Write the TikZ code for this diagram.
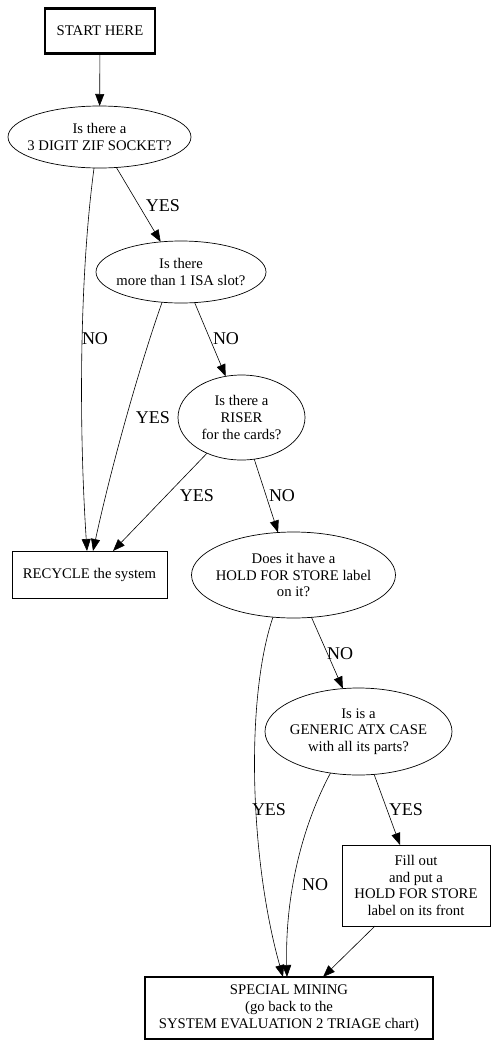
\documentclass[tikz,border=0pt]{standalone}
\usepackage{fontspec}
\setmainfont{Liberation Serif}
\usetikzlibrary{shapes.geometric,arrows.meta}
\begin{document}
\begin{tikzpicture}[x=1pt,y=-1pt,
  every node/.style={inner sep=0pt, outer sep=0pt},
  txt/.style={align=center, font=\fontsize{14.7}{16.8}\selectfont},
  lbl/.style={font=\fontsize{18}{20}\selectfont},
  cond/.style={draw, ellipse, line width=0.7pt},
  boxn/.style={draw, rectangle, line width=0.7pt, txt},
  heavy/.style={draw, rectangle, line width=2.4pt, txt},
  arr/.style={-{Triangle[length=12pt,width=9pt]}, line width=0.6pt}
]
\useasboundingbox (0,0) rectangle (496,1047);

% nodes
\node[heavy, minimum width=110pt, minimum height=45pt] (start) at (100,31) {START HERE};
\node[cond, minimum width=183pt, minimum height=62pt,
  label={[txt]center:{Is there a\\3 DIGIT ZIF SOCKET?}}] (zif) at (99.5,137) {};
\node[cond, minimum width=170pt, minimum height=62pt,
  label={[txt]center:{Is there\\more than 1 ISA slot?}}] (isa) at (181,272) {};
\node[cond, minimum width=127pt, minimum height=85pt,
  label={[txt]center:{Is there a\\RISER\\for the cards?}}] (riser) at (241.5,417.5) {};
\node[boxn, minimum width=155pt, minimum height=47pt] (rec) at (89.5,574.5) {RECYCLE the system};
\node[cond, minimum width=204pt, minimum height=86pt,
  label={[txt]center:{Does it have a\\HOLD FOR STORE label\\on it?}}] (hold) at (293.5,575) {};
\node[cond, minimum width=187pt, minimum height=87pt,
  label={[txt]center:{Is is a\\GENERIC ATX CASE\\with all its parts?}}] (atx) at (358.5,731.5) {};
\node[boxn, minimum width=148pt, minimum height=81pt] (fill) at (416,885.5)
  {Fill out\\and put a\\HOLD FOR STORE\\label on its front};
\node[heavy, minimum width=288pt, minimum height=62pt] (special) at (289,1008)
  {SPECIAL MINING\\(go back to the\\SYSTEM EVALUATION 2 TRIAGE chart)};

% connectors
\draw[arr] (start) -- (zif);
\draw[arr] (zif.299) -- (isa.124);
\draw[arr] (zif.260) .. controls (79,280) and (79,430) .. ([xshift=-2.5pt]rec.north);
\draw[arr] (isa.238.5) .. controls (145,350) and (115,450) .. ([xshift=3.5pt]rec.north);
\draw[arr] (isa.294) -- (riser.111);
\draw[arr] (riser.226) -- ([xshift=23.5pt]rec.north);
\draw[arr] (riser.287.6) -- (hold.110);
\draw[arr] (hold.293) -- (atx.110.8);
\draw[arr] (hold.244.5) .. controls (245,700) and (250,860) .. ([xshift=-6pt]special.north);
\draw[arr] (atx.236.8) .. controls (300,830) and (285,900) .. ([xshift=-2pt]special.north);
\draw[arr] (atx.290.8) -- ([xshift=-16pt]fill.north);
\draw[arr] ([xshift=-41pt]fill.south) -- ([xshift=34pt]special.north);

% edge labels
\node[lbl] (l1) at (163,206) {YES};
\node[lbl] (l2) at (95,339) {NO};
\node[lbl] (l3) at (226,339) {NO};
\node[lbl] (l4) at (153,418) {YES};
\node[lbl] (l5) at (197,496) {YES};
\node[lbl] (l6) at (282,496) {NO};
\node[lbl] (l7) at (340,654) {NO};
\node[lbl] (l8) at (269,810) {YES};
\node[lbl] (l9) at (406,810) {YES};
\node[lbl] (l10) at (315,885) {NO};
\end{tikzpicture}
\end{document}
